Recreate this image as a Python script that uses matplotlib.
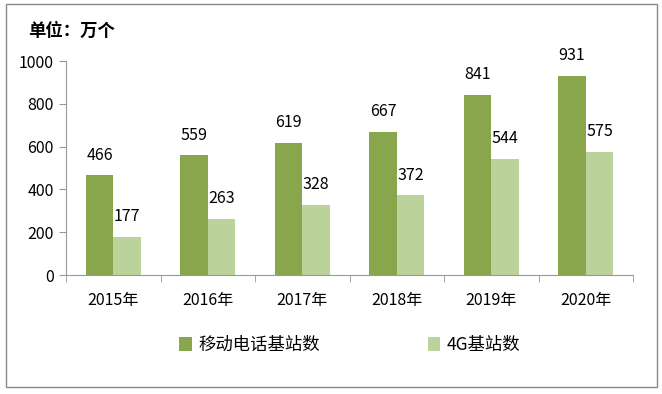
import matplotlib
matplotlib.use('Agg')
import matplotlib.pyplot as plt
import numpy as np
from matplotlib.patches import Rectangle

plt.rcParams['font.family'] = ['Noto Sans CJK SC', 'DejaVu Sans']

years = ['2015年', '2016年', '2017年', '2018年', '2019年', '2020年']
mobile = [466, 559, 619, 667, 841, 931]
lte = [177, 263, 328, 372, 544, 575]
series_names = ['移动电话基站数', '4G基站数']
yticks = [0, 200, 400, 600, 800, 1000]

dark = '#8aa64c'
light = '#bcd29b'

fig = plt.figure(figsize=(6.62, 3.94), dpi=100)
ax = fig.add_axes([66 / 662, 1 - 275 / 394, (633 - 66) / 662, (275 - 61) / 394])

x = np.arange(len(years))
w = 0.29
b1 = ax.bar(x - w / 2, mobile, w, color=dark, label=series_names[0])
b2 = ax.bar(x + w / 2, lte, w, color=light, label=series_names[1])

for bars, vals in [(b1, mobile), (b2, lte)]:
    for rect, v in zip(bars, vals):
        ax.text(rect.get_x() + rect.get_width() / 2, v + 55, str(v),
                ha='center', va='bottom', fontsize=11.5)

ax.set_xlim(-0.5, len(years) - 0.5)
ax.set_ylim(0, 1000)
ax.set_yticks(yticks)
ax.set_yticklabels([str(t) for t in yticks], fontsize=11.5)
ax.set_xticks(x)
ax.set_xticklabels(years, fontsize=11.5)
ax.tick_params(axis='x', length=0, pad=12)
ax.tick_params(axis='y', length=5, color='#999999', pad=4)
# category boundary ticks on the x axis
ax.set_xticks(np.arange(-0.5, len(years)), minor=True)
ax.tick_params(axis='x', which='minor', length=5, color='#999999')

for s in ['top', 'right']:
    ax.spines[s].set_visible(False)
ax.spines['left'].set_color('#999999')
ax.spines['bottom'].set_color('#999999')

fig.text(28 / 662, 1 - 31 / 394, '单位：万个', fontsize=12.5, fontweight='bold',
         ha='left', va='center')

fig.legend(handles=[b1, b2], loc='center', bbox_to_anchor=(350 / 662, 1 - 345 / 394),
           ncol=2, frameon=False, fontsize=12.5, handlelength=0.7, handleheight=0.8,
           columnspacing=6.2, handletextpad=0.4)

fig.patches.append(Rectangle((6 / 662, 1 - 387 / 394), (657 - 6) / 662, (387 - 4) / 394,
                             transform=fig.transFigure, fill=False,
                             edgecolor='#888888', linewidth=1))

fig.savefig('out.png', dpi=100)
